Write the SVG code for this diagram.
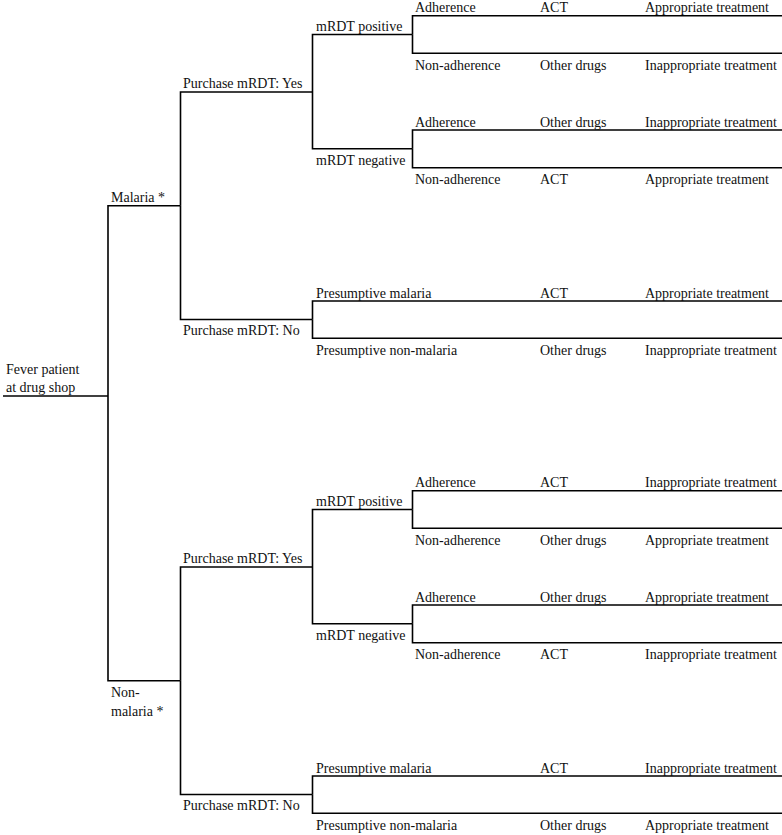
<svg xmlns="http://www.w3.org/2000/svg" width="782" height="835" viewBox="0 0 782 835">
<style>
.c path{fill:none;stroke:#000;stroke-width:1.6}
</style>
<rect width="782" height="835" fill="#fff"/>
<g class="c" id="connectors">
<path d="M3,396 H108"/>
<path d="M108,396 V205.7 H180.5"/>
<path d="M108,396 V680.7 H180.5"/>
<path d="M180.5,205.7 V92 H312.5"/>
<path d="M180.5,205.7 V319.5 H312.5"/>
<path d="M312.5,92 V34.5 H412.5"/>
<path d="M312.5,92 V148.8 H412.5"/>
<path d="M412.5,34.5 V15.7 H782"/>
<path d="M412.5,34.5 V53.3 H782"/>
<path d="M412.5,148.8 V130 H782"/>
<path d="M412.5,148.8 V167.7 H782"/>
<path d="M312.5,319.5 V301 H782"/>
<path d="M312.5,319.5 V338.3 H782"/>
<path d="M180.5,680.7 V567 H312.5"/>
<path d="M180.5,680.7 V794.5 H312.5"/>
<path d="M312.5,567 V509.5 H412.5"/>
<path d="M312.5,567 V623.8 H412.5"/>
<path d="M412.5,509.5 V490.7 H782"/>
<path d="M412.5,509.5 V528.3 H782"/>
<path d="M412.5,623.8 V605 H782"/>
<path d="M412.5,623.8 V642.7 H782"/>
<path d="M312.5,794.5 V776 H782"/>
<path d="M312.5,794.5 V813.3 H782"/>
</g>
<g font-family="Liberation Serif, Times New Roman, DejaVu Serif, serif" font-size="14" fill="#111">
<g id="root"><text x="6" y="374">Fever patient</text><text x="6" y="392">at drug shop</text></g>
<g id="malaria"><text x="111" y="202">Malaria *</text></g>
<g id="nonmalaria"><text x="111" y="697">Non-</text><text x="111" y="716">malaria *</text></g>
<g id="m-yes"><text x="183" y="88">Purchase mRDT: Yes</text></g>
<g id="m-no"><text x="183" y="335">Purchase mRDT: No</text></g>
<g id="n-yes"><text x="183" y="563">Purchase mRDT: Yes</text></g>
<g id="n-no"><text x="183" y="810">Purchase mRDT: No</text></g>
<g id="m-pos"><text x="316" y="31">mRDT positive</text></g>
<g id="m-neg"><text x="316" y="165">mRDT negative</text></g>
<g id="n-pos"><text x="316" y="506">mRDT positive</text></g>
<g id="n-neg"><text x="316" y="640">mRDT negative</text></g>
<g id="leaf1"><text x="415" y="12">Adherence</text><text x="540" y="12">ACT</text><text x="645" y="12">Appropriate treatment</text></g>
<g id="leaf2"><text x="415" y="69.5">Non-adherence</text><text x="540" y="69.5">Other drugs</text><text x="645" y="69.5">Inappropriate treatment</text></g>
<g id="leaf3"><text x="415" y="126.5">Adherence</text><text x="540" y="126.5">Other drugs</text><text x="645" y="126.5">Inappropriate treatment</text></g>
<g id="leaf4"><text x="415" y="184">Non-adherence</text><text x="540" y="184">ACT</text><text x="645" y="184">Appropriate treatment</text></g>
<g id="leaf5"><text x="316" y="297.5">Presumptive malaria</text><text x="540" y="297.5">ACT</text><text x="645" y="297.5">Appropriate treatment</text></g>
<g id="leaf6"><text x="316" y="354.5">Presumptive non-malaria</text><text x="540" y="354.5">Other drugs</text><text x="645" y="354.5">Inappropriate treatment</text></g>
<g id="leaf7"><text x="415" y="487">Adherence</text><text x="540" y="487">ACT</text><text x="645" y="487">Inappropriate treatment</text></g>
<g id="leaf8"><text x="415" y="544.5">Non-adherence</text><text x="540" y="544.5">Other drugs</text><text x="645" y="544.5">Appropriate treatment</text></g>
<g id="leaf9"><text x="415" y="601.5">Adherence</text><text x="540" y="601.5">Other drugs</text><text x="645" y="601.5">Appropriate treatment</text></g>
<g id="leaf10"><text x="415" y="659">Non-adherence</text><text x="540" y="659">ACT</text><text x="645" y="659">Inappropriate treatment</text></g>
<g id="leaf11"><text x="316" y="772.5">Presumptive malaria</text><text x="540" y="772.5">ACT</text><text x="645" y="772.5">Inappropriate treatment</text></g>
<g id="leaf12"><text x="316" y="829.5">Presumptive non-malaria</text><text x="540" y="829.5">Other drugs</text><text x="645" y="829.5">Appropriate treatment</text></g>
</g>
</svg>
